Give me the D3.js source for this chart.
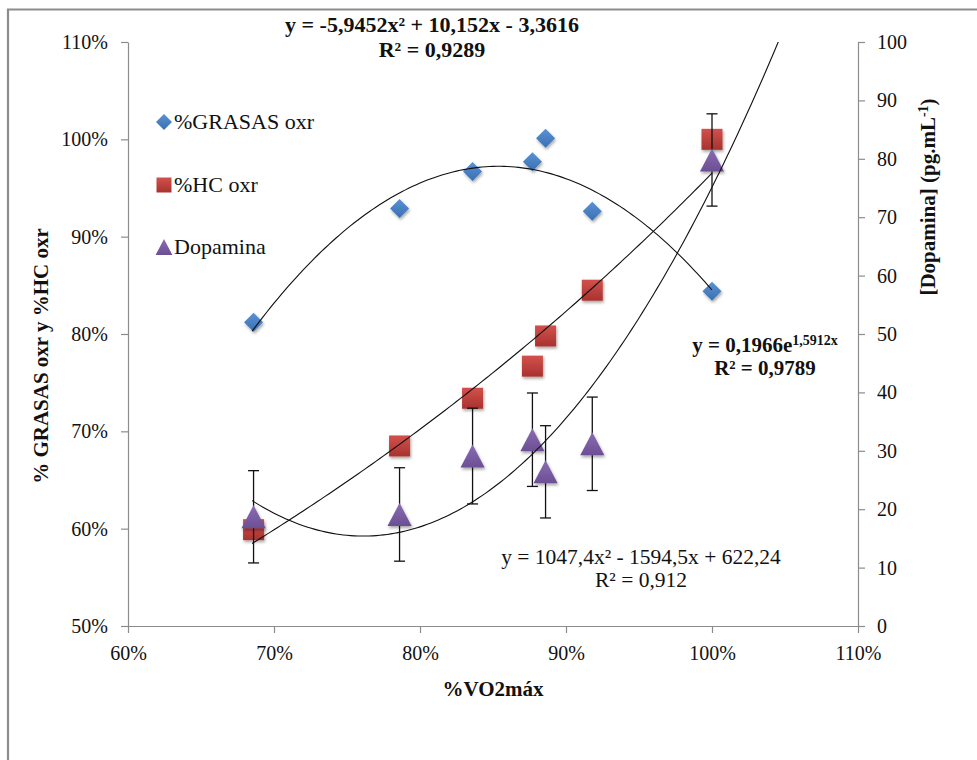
<!DOCTYPE html>
<html>
<head>
<meta charset="utf-8">
<title>Dopamina vs %VO2max</title>
<script src="https://d3js.org/d3.v7.min.js"></script>
<style>
body { margin: 0; background: #fff; }
text { font-family: "Liberation Serif", "Times New Roman", serif; fill: #111; }
</style>
</head>
<body>
<svg id="svg" width="977" height="760"></svg>
<script>
// valores
var vo2 = [68.6, 78.6, 83.6, 87.7, 88.6, 91.8, 100];
var grasas = [81.2, 92.9, 96.7, 97.7, 100.1, 92.6, 84.4];
var hc = [59.9, 68.5, 73.4, 76.7, 79.8, 84.5, 100.0];
var dopamina = [18.7, 19.1, 29.1, 31.9, 26.4, 31.2, 79.8];
var dopaErr = [7.9, 8.0, 8.2, 8.0, 7.9, 8.0, 7.9];

var xTicks = [60, 70, 80, 90, 100, 110];
var yLeftTicks = [50, 60, 70, 80, 90, 100, 110];
var yRightTicks = [0, 10, 20, 30, 40, 50, 60, 70, 80, 90, 100];

// lineas de tendencia (x en fraccion)
var polyGrasas = [-5.9452, 10.152, -3.3616];
var expHC = [0.1966, 1.5912];
var polyDopa = [1047.4, -1594.5, 622.24];
var tendRange = [0.685, 1.0];
var tendRangeDopa = [0.685, 1.06];

var svg = d3.select("#svg");
var L = 128, R = 858, T = 42, B = 626;

var x = d3.scaleLinear().domain([60, 110]).range([L, R]);
var yL = d3.scaleLinear().domain([50, 110]).range([B, T]);
var yR = d3.scaleLinear().domain([0, 100]).range([B, T]);

// marco
svg.append("path")
	.attr("d", "M8,770 L8,9.5 L990,9.5")
	.attr("fill", "none").attr("stroke", "#8c8c8c").attr("stroke-width", 2.2);

var defs = svg.append("defs");
function grad(id, c1, c2) {
	var g = defs.append("linearGradient").attr("id", id)
		.attr("x1", 0).attr("y1", 0).attr("x2", 0).attr("y2", 1);
	g.append("stop").attr("offset", "0%").attr("stop-color", c1);
	g.append("stop").attr("offset", "100%").attr("stop-color", c2);
}
grad("gBlue", "#5a92d6", "#3a6fb0");
grad("gRed", "#d2514c", "#a8322f");
grad("gPurple", "#8a6cb3", "#6b4f93");
var f = defs.append("filter").attr("id", "sh").attr("x", "-50%").attr("y", "-50%").attr("width", "200%").attr("height", "200%");
f.append("feDropShadow").attr("dx", 1).attr("dy", 2).attr("stdDeviation", 1.5).attr("flood-opacity", 0.35);
defs.append("clipPath").attr("id", "plot").append("rect")
	.attr("x", L).attr("y", T).attr("width", R - L).attr("height", B - T);

// ejes
function styleAxis(g) {
	g.selectAll("path,line").attr("stroke", "#8c8c8c").attr("stroke-width", 1.2);
	g.selectAll("text").attr("font-size", 20).attr("fill", "#111")
		.attr("font-family", "Liberation Serif, Times New Roman, serif");
}
svg.append("g").attr("transform", "translate(0," + B + ")")
	.call(d3.axisBottom(x).tickValues(xTicks).tickFormat(function(d){ return d + "%"; })
		.tickSize(7).tickSizeOuter(0).tickPadding(13))
	.call(styleAxis);
svg.append("g").attr("transform", "translate(" + L + ",0)")
	.call(d3.axisLeft(yL).tickValues(yLeftTicks).tickFormat(function(d){ return d + "%"; })
		.tickSize(7).tickSizeOuter(0).tickPadding(13))
	.call(styleAxis);
svg.append("g").attr("transform", "translate(" + R + ",0)")
	.call(d3.axisRight(yR).tickValues(yRightTicks)
		.tickSize(7).tickSizeOuter(0).tickPadding(12))
	.call(styleAxis);

// simbolos
function diamond(s) { return "M0," + (-s) + " L" + s + ",0 L0," + s + " L" + (-s) + ",0 Z"; }
function square(s) { return "M" + (-s) + "," + (-s) + " h" + (2 * s) + " v" + (2 * s) + " h" + (-2 * s) + " Z"; }
function triangle(s) { return "M0," + (-s) + " L" + (s * 1.05) + "," + s + " L" + (-s * 1.05) + "," + s + " Z"; }

var plot = svg.append("g");

plot.selectAll(".g").data(vo2).enter().append("path")
	.attr("transform", function(d, i){ return "translate(" + x(d) + "," + yL(grasas[i]) + ")"; })
	.attr("d", diamond(9.5)).attr("fill", "url(#gBlue)").attr("filter", "url(#sh)");

plot.selectAll(".h").data(vo2).enter().append("path")
	.attr("transform", function(d, i){ return "translate(" + x(d) + "," + yL(hc[i]) + ")"; })
	.attr("d", square(10.5)).attr("fill", "url(#gRed)").attr("filter", "url(#sh)");

// barras de error
var eb = plot.selectAll(".e").data(vo2).enter().append("g")
	.attr("stroke", "#111").attr("stroke-width", 1.3);
eb.append("line")
	.attr("x1", function(d){ return x(d); }).attr("x2", function(d){ return x(d); })
	.attr("y1", function(d, i){ return yR(dopamina[i] + dopaErr[i]); })
	.attr("y2", function(d, i){ return yR(dopamina[i] - dopaErr[i]); });
eb.append("line")
	.attr("x1", function(d){ return x(d) - 5.5; }).attr("x2", function(d){ return x(d) + 5.5; })
	.attr("y1", function(d, i){ return yR(dopamina[i] + dopaErr[i]); })
	.attr("y2", function(d, i){ return yR(dopamina[i] + dopaErr[i]); });
eb.append("line")
	.attr("x1", function(d){ return x(d) - 5.5; }).attr("x2", function(d){ return x(d) + 5.5; })
	.attr("y1", function(d, i){ return yR(dopamina[i] - dopaErr[i]); })
	.attr("y2", function(d, i){ return yR(dopamina[i] - dopaErr[i]); });

plot.selectAll(".d").data(vo2).enter().append("path")
	.attr("transform", function(d, i){ return "translate(" + x(d) + "," + yR(dopamina[i]) + ")"; })
	.attr("d", triangle(11.5)).attr("fill", "url(#gPurple)").attr("filter", "url(#sh)");

// tendencias
function curve(fn, rng, ys) {
	var pts = d3.range(rng[0], rng[1] + 0.0001, 0.0025).map(function(t){ return [x(t * 100), ys(fn(t))]; });
	svg.append("path").attr("clip-path", "url(#plot)")
		.attr("d", d3.line()(pts)).attr("fill", "none").attr("stroke", "#111").attr("stroke-width", 1.1);
}
curve(function(t){ return 100 * (polyGrasas[0] * t * t + polyGrasas[1] * t + polyGrasas[2]); }, tendRange, yL);
curve(function(t){ return 100 * expHC[0] * Math.exp(expHC[1] * t); }, tendRange, yL);
curve(function(t){ return polyDopa[0] * t * t + polyDopa[1] * t + polyDopa[2]; }, tendRangeDopa, yR);

// leyenda
var leg = [
	{ name: "%GRASAS oxr", y: 122, d: diamond(8), fill: "url(#gBlue)" },
	{ name: "%HC oxr", y: 185, d: square(7.5), fill: "url(#gRed)" },
	{ name: "Dopamina", y: 247, d: triangle(8), fill: "url(#gPurple)" }
];
var lg = svg.selectAll(".leg").data(leg).enter().append("g")
	.attr("transform", function(d){ return "translate(164," + d.y + ")"; });
lg.append("path").attr("d", function(d){ return d.d; }).attr("fill", function(d){ return d.fill; });
lg.append("text").attr("x", 10).attr("y", 7).attr("font-size", 22).text(function(d){ return d.name; });

// ecuaciones
svg.append("text").attr("x", 432).attr("y", 32).attr("text-anchor", "middle")
	.attr("font-size", 22).attr("font-weight", "bold").text("y = -5,9452x² + 10,152x - 3,3616");
svg.append("text").attr("x", 432).attr("y", 57).attr("text-anchor", "middle")
	.attr("font-size", 22).attr("font-weight", "bold").text("R² = 0,9289");

var e2 = svg.append("text").attr("x", 765).attr("y", 352).attr("text-anchor", "middle")
	.attr("font-size", 21).attr("font-weight", "bold");
e2.append("tspan").text("y = 0,1966e");
e2.append("tspan").attr("dy", -7).attr("font-size", 14).text("1,5912x");
svg.append("text").attr("x", 765).attr("y", 375).attr("text-anchor", "middle")
	.attr("font-size", 21).attr("font-weight", "bold").text("R² = 0,9789");

svg.append("text").attr("x", 641).attr("y", 564).attr("text-anchor", "middle")
	.attr("font-size", 21.5).text("y = 1047,4x² - 1594,5x + 622,24");
svg.append("text").attr("x", 641).attr("y", 587).attr("text-anchor", "middle")
	.attr("font-size", 21.5).text("R² = 0,912");

// titulos de ejes
svg.append("text").attr("x", 493).attr("y", 696).attr("text-anchor", "middle")
	.attr("font-size", 21).attr("font-weight", "bold").text("%VO2máx");
svg.append("text").attr("transform", "translate(48,356) rotate(-90)").attr("text-anchor", "middle")
	.attr("font-size", 21).attr("font-weight", "bold").text("% GRASAS oxr y %HC oxr");
var rt = svg.append("text").attr("transform", "translate(935,197) rotate(-90)").attr("text-anchor", "middle")
	.attr("font-size", 21).attr("font-weight", "bold");
rt.append("tspan").text("[Dopamina]  (pg.mL");
rt.append("tspan").attr("dy", -7).attr("font-size", 14).text("-1");
rt.append("tspan").attr("dy", 7).text(")");
</script>
</body>
</html>
